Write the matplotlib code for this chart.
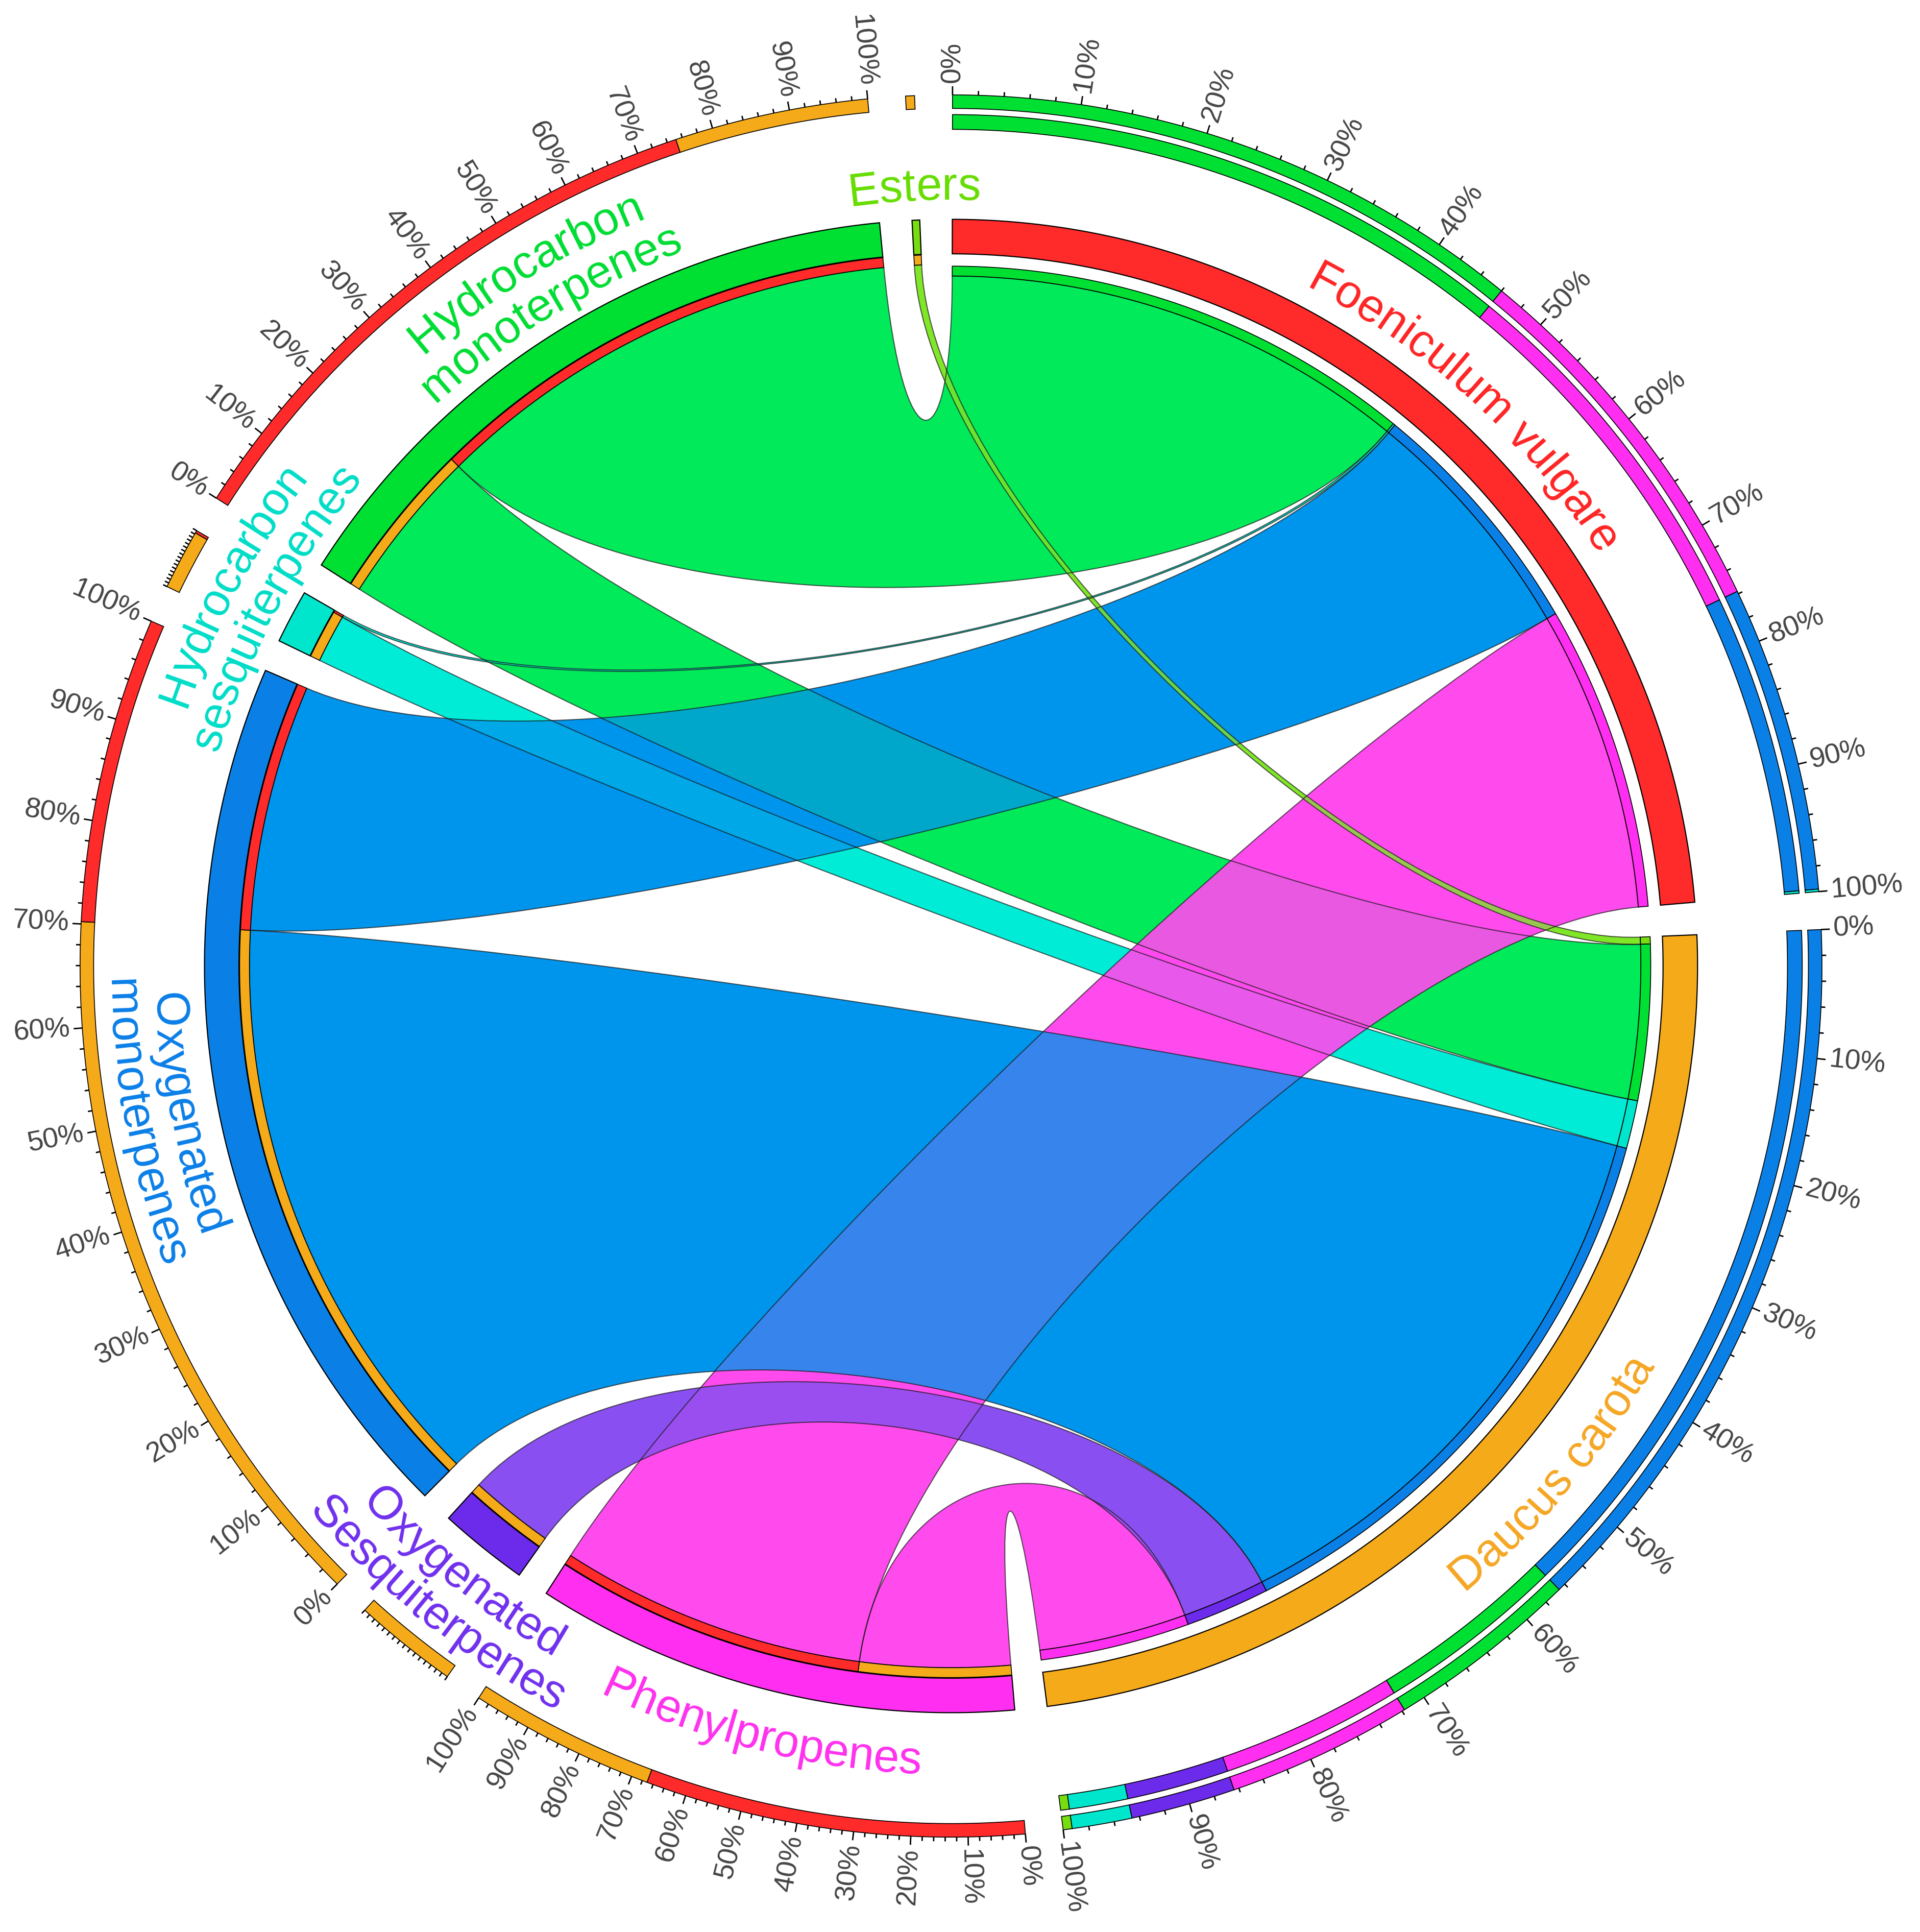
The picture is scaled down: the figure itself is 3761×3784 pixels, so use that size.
import numpy as np
import matplotlib.pyplot as plt
from matplotlib.path import Path
from matplotlib.patches import PathPatch, Polygon
from matplotlib.collections import LineCollection
from matplotlib.font_manager import FontProperties

# essential oil composition (% of each oil) by compound class
samples = ['Foeniculum vulgare', 'Daucus carota']
classes = ['Phenylpropenes', 'Oxygenated\nSesquiterpenes', 'Oxygenated\nmonoterpenes',
           'Hydrocarbon\nsesquiterpenes', 'Hydrocarbon\nmonoterpenes', 'Esters']
foeniculum = [29.8, 0.0, 24.0, 0.2, 46.0, 0.0]
daucus = [14.6, 8.2, 56.6, 4.7, 15.2, 0.7]

sample_colors = ['#FF2A2A', '#F5AA1A']
class_colors = ['#FF2EF0', '#6C2AEA', '#0A80E6', '#00E6CC', '#00E033', '#77DD11']
ribbon_colors = ['#FF4AEE', '#8A4FF0', '#0095EC', '#00ECD6', '#00EA5A', '#80E628']
# how much a ribbon lets the ribbons under it show through
ribbon_show = [0.09, 0.15, 0.22, 0.12, 0.1, 0.2]
sample_text_colors = ['#FF2424', '#F5A623']
class_text_colors = ['#FF30EE', '#7030EE', '#0A7FE8', '#00DDC8', '#00DD33', '#66DD00']

matrix = np.array([foeniculum, daucus])
n_s, n_c = matrix.shape

W, H = 1559, 1568
CX, CY = 772, 784
PX = 3762 / W
START, GAP, DPU = 89.9, 2.5, 0.85

fig = plt.figure(figsize=(37.62, 37.84), dpi=100)
ax = fig.add_axes([0, 0, 1, 1])
ax.set_xlim(0, W)
ax.set_ylim(0, H)
ax.axis('off')
renderer = fig.canvas.get_renderer()

fp_label = FontProperties(family='Liberation Sans', size=65)
fp_tick = FontProperties(family='Liberation Sans', size=40)


def pol(r, deg):
    t = np.radians(deg)
    return np.array([CX + r * np.cos(t), CY + r * np.sin(t)])


def arc_pts(r, a1, a2):
    n = max(2, int(abs(a1 - a2) * 4) + 2)
    t = np.radians(np.linspace(a1, a2, n))
    return np.column_stack([CX + r * np.cos(t), CY + r * np.sin(t)])


def band(r0, r1, a1, a2, fc, lw=1.6, z=3):
    pts = np.vstack([arc_pts(r1, a1, a2), arc_pts(r0, a2, a1)])
    ax.add_patch(Polygon(pts, closed=True, fc=fc, ec='black', lw=lw, zorder=z))


def curve(r0, a0, r1, a1):
    sep = abs((a0 - a1 + 180) % 360 - 180)
    t = 0.28 + 0.0009 * sep
    c = np.array([CX, CY])
    p0, p3 = pol(r0, a0), pol(r1, a1)
    return [c + (p0 - c) * (1 - t), c + (p3 - c) * (1 - t), p3]


def ribbon_path(rs, sa, rc, ca):
    verts, codes = [], []
    p = arc_pts(rs, sa[0], sa[1])
    verts += list(p)
    codes += [Path.MOVETO] + [Path.LINETO] * (len(p) - 1)
    verts += curve(rs, sa[1], rc, ca[0])
    codes += [Path.CURVE4] * 3
    p = arc_pts(rc, ca[0], ca[1])
    verts += list(p[1:])
    codes += [Path.LINETO] * (len(p) - 1)
    verts += curve(rc, ca[1], rs, sa[0])
    codes += [Path.CURVE4] * 3
    verts.append(verts[0])
    codes.append(Path.CLOSEPOLY)
    return Path(np.array(verts), codes)


def text_w(s, fp):
    w, h, d = renderer.get_text_width_height_descent(s, fp, ismath=False)
    return w / PX


def arc_text(s, r, center, upper, fp, color):
    total = text_w(s, fp)
    for k, ch in enumerate(s):
        if ch == ' ':
            continue
        wch = text_w(ch, fp)
        x0 = text_w(s[:k + 1], fp) - wch
        off = x0 + wch / 2 - total / 2
        dang = np.degrees(off / r)
        if upper:
            phi, rot = center - dang, center - dang - 90
        else:
            phi, rot = center + dang, center + dang + 90
        x, y = pol(r, phi)
        ax.text(x, y, ch, fontproperties=fp, color=color, rotation=rot,
                rotation_mode='anchor', ha='center', va='baseline', zorder=6)


# segment layout, clockwise from the top
names = samples + classes
seg_colors = sample_colors + class_colors
text_colors = sample_text_colors + class_text_colors
sizes = list(matrix.sum(axis=1)) + list(matrix.sum(axis=0))
seg_a, seg_b = [], []
a = START
for s in sizes:
    seg_a.append(a)
    seg_b.append(a - s * DPU)
    a -= s * DPU + GAP

# ribbon end intervals
s_int, c_int = {}, {}
for i in range(n_s):
    a = seg_a[i]
    for j in reversed(range(n_c)):
        v = matrix[i, j]
        if v > 0:
            s_int[(i, j)] = (a, a - v * DPU)
            a -= v * DPU
for j in range(n_c):
    a = seg_a[n_s + j]
    for i in reversed(range(n_s)):
        v = matrix[i, j]
        if v > 0:
            c_int[(i, j)] = (a, a - v * DPU)
            a -= v * DPU

R_S, R_C = 560, 569.5
draw_order = [4, 3, 0, 2, 1, 5]
ribbons = []
for j in draw_order:
    for i in range(n_s):
        if matrix[i, j] > 0:
            ribbons.append((ribbon_path(R_S, s_int[(i, j)], R_C, c_int[(i, j)]), j))

# each ribbon opaque, then the ones beneath blended back in where it covers them
z = 1.0
for n, (path, j) in enumerate(ribbons):
    top = PathPatch(path, fc=ribbon_colors[j], ec='none', zorder=z)
    ax.add_patch(top)
    z += 0.01
    for m in range(n):
        path_m, j_m = ribbons[m]
        under = PathPatch(path_m, fc=ribbon_colors[j_m], ec='none',
                          alpha=ribbon_show[j], zorder=z)
        ax.add_patch(under)
        under.set_clip_path(top)
        z += 0.01
for path, j in ribbons:
    ax.add_patch(PathPatch(path, fc='none', ec=(0.1, 0.1, 0.1, 0.7), lw=1.5, zorder=2))

# main bars and inner strips
for k in range(len(names)):
    band(578, 606, seg_a[k], seg_b[k], seg_colors[k])
for (i, j), (a1, a2) in s_int.items():
    band(R_S, 568, a1, a2, class_colors[j], lw=1.2)
for (i, j), (a1, a2) in c_int.items():
    band(R_C, 577.5, a1, a2, sample_colors[i], lw=1.2)


# outer composition rings, sorted by share
def comp_ring(r0, r1, a1, a2, vals, cols):
    vals = np.asarray(vals, float)
    order = np.argsort(-vals, kind='stable')
    span = a1 - a2
    a = a1
    for o in order:
        if vals[o] <= 0:
            continue
        b = a - span * vals[o] / vals.sum()
        band(r0, r1, a, b, cols[o], lw=1.2)
        a = b


for i in range(n_s):
    comp_ring(679, 691, seg_a[i], seg_b[i], matrix[i], class_colors)
    comp_ring(696, 707, seg_a[i], seg_b[i], matrix[i], class_colors)
for j in range(n_c):
    k = n_s + j
    comp_ring(696, 707, seg_a[k], seg_b[k], matrix[:, j], sample_colors)

# ticks and percentage labels
R_T = 707
segs_labelled = [0, 1, 2, 4, 6]
segs_fine = [3, 5]
tick_lines = []
for k in range(len(names)):
    a1, a2 = seg_a[k], seg_b[k]
    if k in segs_labelled:
        pcts = list(range(0, 101, 2))
    elif k in segs_fine:
        pcts = list(np.linspace(0, 100, 17))
    else:
        pcts = []
    for p in pcts:
        ang = a1 - (a1 - a2) * p / 100
        major = k in segs_labelled and p % 10 == 0
        ln = 7 if major else 3.5
        tick_lines.append([pol(R_T, ang), pol(R_T + ln, ang)])
        if major:
            x, y = pol(R_T + 10, ang)
            if np.cos(np.radians(ang)) >= 0:
                rot, ha = ang, 'left'
            else:
                rot, ha = ang - 180, 'right'
            ax.text(x, y, f'{int(p)}%', fontproperties=fp_tick, color='#444444',
                    rotation=rot, rotation_mode='anchor', ha=ha, va='center', zorder=6)
ax.add_collection(LineCollection(tick_lines, colors='black', linewidths=2.0, zorder=4))

# segment names along the circle
for k, name in enumerate(names):
    mid = (seg_a[k] + seg_b[k]) / 2
    lines = name.split('\n')
    upper = np.sin(np.radians(mid)) > 0
    if upper:
        radii = [622] if len(lines) == 1 else [656, 620]
    else:
        radii = [656] if len(lines) == 1 else [647, 684]
    for line, r in zip(lines, radii):
        arc_text(line, r, mid, upper, fp_label, text_colors[k])

fig.savefig('out.png', dpi=100, facecolor='white')
